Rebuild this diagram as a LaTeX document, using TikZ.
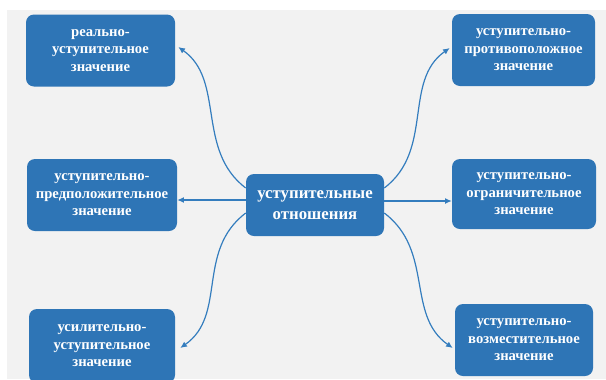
\documentclass[tikz,border=0pt]{standalone}
\usepackage{fontspec}
\setmainfont{Liberation Serif}
\usetikzlibrary{arrows.meta}
\definecolor{boxblue}{RGB}{46,117,182}
\definecolor{lineblue}{RGB}{52,125,190}
\definecolor{bggrey}{RGB}{242,242,242}
\tikzset{
  box/.style={draw=none, fill=boxblue, rounded corners=6pt, text=white,
    align=center, inner sep=0pt,
    font=\fontsize{11}{13.2}\selectfont\bfseries},
  mainbox/.style={box, font=\fontsize{12.6}{16}\selectfont\bfseries},
  conn/.style={draw=lineblue, line width=0.9pt, -{Latex[length=5pt,width=4.5pt]}}
}
\begin{document}
\begin{tikzpicture}[x=0.75pt,y=-0.75pt]
  \useasboundingbox (0,0) rectangle (606,379);
  \clip (0,0) rectangle (606,379);
  \fill[bggrey] (7,10) rectangle (606,379);

  \node[box, minimum width=111.75pt, minimum height=54pt] (tl) at (100.5,50.5)
    {реально-\\уступительное\\значение};
  \node[box, minimum width=107.25pt, minimum height=54pt] (tr) at (523.5,50)
    {уступительно-\\противоположное\\значение};
  \node[box, minimum width=112.5pt, minimum height=54pt] (ml) at (102,195)
    {уступительно-\\предположительное\\значение};
  \node[box, minimum width=108pt, minimum height=52.5pt] (mr) at (524,194)
    {уступительно-\\ограничительное\\значение};
  \node[box, minimum width=109.5pt, minimum height=55.5pt] (bl) at (102,346)
    {усилительно-\\уступительное\\значение};
  \node[box, minimum width=103.5pt, minimum height=54pt] (br) at (524,340)
    {уступительно-\\возместительное\\значение};
  \node[mainbox, minimum width=103.5pt, minimum height=46.5pt] (c) at (315,205)
    {уступительные\\отношения};

  % straight connectors
  \draw[conn] ([yshift=3.75pt]c.west) -- ([yshift=-3.75pt]ml.east);
  \draw[conn] ([yshift=3pt]c.east) -- ([yshift=-5.25pt]mr.west);

  % curved connectors
  \draw[conn] ([yshift=12.75pt]c.west) .. controls +(-50,-38) and +(47,33) ..
    ([xshift=2.25pt,yshift=2.6pt]tl.east);
  \draw[conn] ([yshift=12.75pt]c.east) .. controls +(50,-38) and +(-47,33) ..
    ([xshift=-1.5pt,yshift=1.5pt]tr.west);
  \draw[conn] ([yshift=-6pt]c.west) .. controls +(-50,38) and +(47,-33) ..
    ([xshift=3.75pt,yshift=-1.5pt]bl.east);
  \draw[conn] ([yshift=-6pt]c.east) .. controls +(50,38) and +(-47,-33) ..
    ([xshift=-1.5pt,yshift=-6pt]br.west);
\end{tikzpicture}
\end{document}
